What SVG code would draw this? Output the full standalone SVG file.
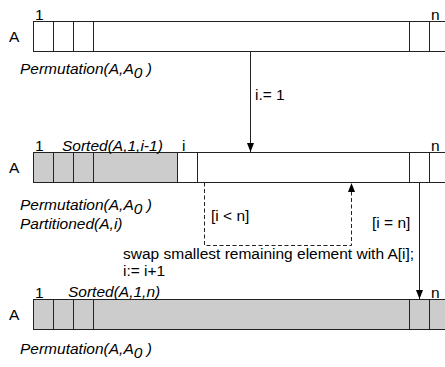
<svg xmlns="http://www.w3.org/2000/svg" width="445" height="367" viewBox="0 0 445 367">
  <style>
    text { font-family: "Liberation Sans", Arial, Helvetica, sans-serif; font-size: 15.5px; fill: #000; }
    .it { font-style: italic; }
    .box { stroke: #222; stroke-width: 1; }
    .white { fill: #fff; }
    .gray { fill: #cccccc; }
    .div { stroke: #222; stroke-width: 1; }
    .conn { stroke: #222; stroke-width: 1; fill: none; }
    .dash { stroke: #222; stroke-width: 1; fill: none; stroke-dasharray: 4 2.5; }
  </style>
  <defs>
    <marker id="arr" viewBox="0 0 9 7" refX="9" refY="3.5" markerWidth="9" markerHeight="7" markerUnits="userSpaceOnUse" orient="auto">
      <path d="M0,0 L9,3.5 L0,7 z" fill="#000"/>
    </marker>
  </defs>

  <!-- Top array -->
  <g id="array-initial">
    <rect class="box white" x="33.5" y="21.5" width="430" height="30"/>
    <path class="div" d="M53.5,21.5V51.5 M73.5,21.5V51.5 M93.5,21.5V51.5 M409.5,21.5V51.5 M429.5,21.5V51.5"/>
    <text x="35" y="20">1</text>
    <text x="431" y="20">n</text>
    <text x="9" y="42">A</text>
    <text class="it" x="20" y="74">Permutation(A,A<tspan dy="4">0</tspan><tspan dy="-4"> )</tspan></text>
  </g>

  <!-- Middle array -->
  <g id="array-loop">
    <rect class="white" x="33.5" y="152.5" width="430" height="30"/>
    <rect class="gray" x="33.5" y="152.5" width="144" height="30"/>
    <rect class="box" fill="none" x="33.5" y="152.5" width="430" height="30"/>
    <path class="div" d="M53.5,152.5V182.5 M73.5,152.5V182.5 M93.5,152.5V182.5 M177.5,152.5V182.5 M197.5,152.5V182.5 M409.5,152.5V182.5 M429.5,152.5V182.5"/>
    <text x="35" y="151">1</text>
    <text class="it" x="62" y="151">Sorted(A,1,i-1)</text>
    <text x="182" y="151">i</text>
    <text x="431" y="151">n</text>
    <text x="9" y="173">A</text>
    <text class="it" x="20" y="210">Permutation(A,A<tspan dy="4">0</tspan><tspan dy="-4"> )</tspan></text>
    <text class="it" x="20" y="229">Partitioned(A,i)</text>
  </g>

  <!-- Bottom array -->
  <g id="array-final">
    <rect class="box gray" x="33.5" y="299.5" width="430" height="30"/>
    <path class="div" d="M53.5,299.5V329.5 M73.5,299.5V329.5 M93.5,299.5V329.5 M409.5,299.5V329.5 M429.5,299.5V329.5"/>
    <text x="35" y="298">1</text>
    <text class="it" x="68" y="297">Sorted(A,1,n)</text>
    <text x="431" y="298">n</text>
    <text x="9" y="320">A</text>
    <text class="it" x="20" y="354">Permutation(A,A<tspan dy="4">0</tspan><tspan dy="-4"> )</tspan></text>
  </g>

  <!-- Connectors -->
  <g id="connectors">
    <line class="conn" x1="250.5" y1="51.5" x2="250.5" y2="152" marker-end="url(#arr)"/>
    <polyline class="dash" points="204.5,182.5 204.5,245.5 351.5,245.5 351.5,183" marker-end="url(#arr)"/>
    <line class="conn" x1="419.5" y1="182.5" x2="419.5" y2="299" marker-end="url(#arr)"/>
  </g>

  <!-- Connector labels -->
  <g id="labels">
    <text x="255" y="100">i.= 1</text>
    <text x="211" y="221">[i &lt; n]</text>
    <text x="372" y="228">[i = n]</text>
    <text x="123" y="259">swap smallest remaining element with A[i];</text>
    <text x="123" y="276">i:= i+1</text>
  </g>
</svg>
